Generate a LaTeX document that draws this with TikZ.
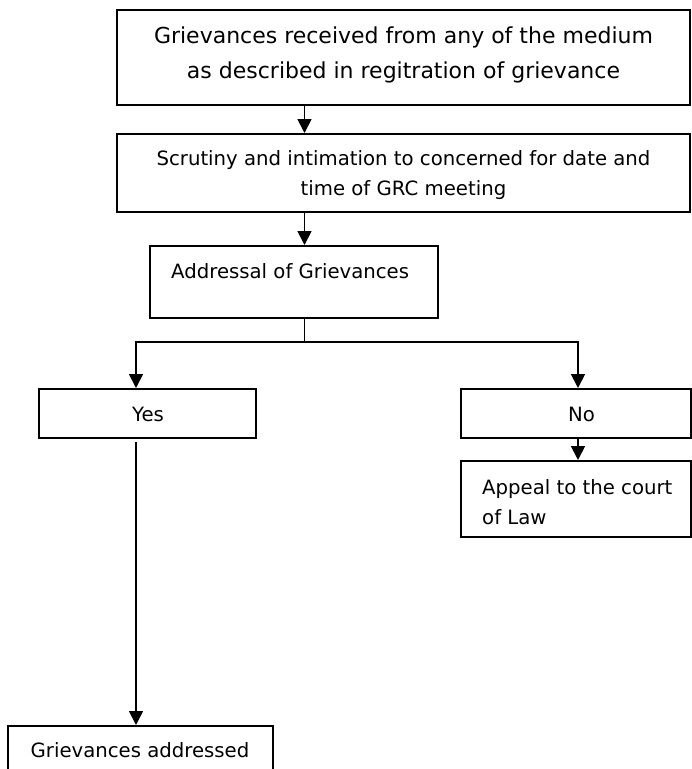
\documentclass[tikz,border=0pt]{standalone}
\usepackage{fontspec}
\setmainfont{DejaVu Sans}
\usetikzlibrary{arrows.meta}
\tikzset{
  box/.style={draw, line width=2pt, rectangle, inner sep=0pt},
  txt/.style={inner sep=0pt, font=\fontsize{19.7}{30}\selectfont},
  arr/.style={line width=1.8pt, -{Triangle[width=14pt,length=14pt]}},
  ln/.style={line width=1.8pt}
}
\begin{document}
\begin{tikzpicture}[x=1pt,y=-1pt]
\useasboundingbox (0,0) rectangle (692,769);
\clip (0,0) rectangle (692,769);
% boxes
\node[box, minimum width=573pt, minimum height=95pt] (top) at (403.5,57.5) {};
\node[box, minimum width=573pt, minimum height=78pt] (scr) at (403.5,173) {};
\node[box, minimum width=288pt, minimum height=72pt] (addr) at (294,282) {};
\node[box, minimum width=217pt, minimum height=48.5pt] (yes) at (147.5,413.25) {};
\node[box, minimum width=230pt, minimum height=48.5pt] (no) at (576,413.25) {};
\node[box, minimum width=230pt, minimum height=76pt] (app) at (576,499) {};
\node[box, minimum width=265pt, minimum height=64pt] (done) at (140.5,758) {};
% texts
\node[txt, font=\fontsize{22}{35}\selectfont, align=center] (ttop) at (403.5,55)
  {Grievances received from any of the medium\\as described in regitration of grievance};
\node[txt, align=center] (tscr) at (403.5,175)
  {Scrutiny and intimation to concerned for date and\\time of GRC meeting};
\node[txt, anchor=west] (taddr) at (171,271) {Addressal of Grievances};
\node[txt] (tyes) at (148,414) {Yes};
\node[txt] (tno) at (581.5,414) {No};
\node[txt, align=left, anchor=west] (tapp) at (482,502) {Appeal to the court\\of Law};
\node[txt] (tdone) at (140,750) {Grievances addressed};
% connector columns
\coordinate (sp) at (304.5,0);
\coordinate (cl) at (136,0);
\coordinate (cr) at (578,0);
\coordinate (hy) at (0,342);
% connectors
\draw[arr] (top.south -| sp) -- (scr.north -| sp);
\draw[arr] (scr.south -| sp) -- (addr.north -| sp);
\draw[arr] (addr.south -| sp) |- (cl |- hy) -- (yes.north -| cl);
\draw[arr] (sp |- hy) -- (cr |- hy) -- (no.north -| cr);
\draw[arr] (no.south -| cr) -- (app.north -| cr);
\coordinate (ys) at (136,442);
\draw[arr] (ys) -- (done.north -| cl);
\end{tikzpicture}
\end{document}
